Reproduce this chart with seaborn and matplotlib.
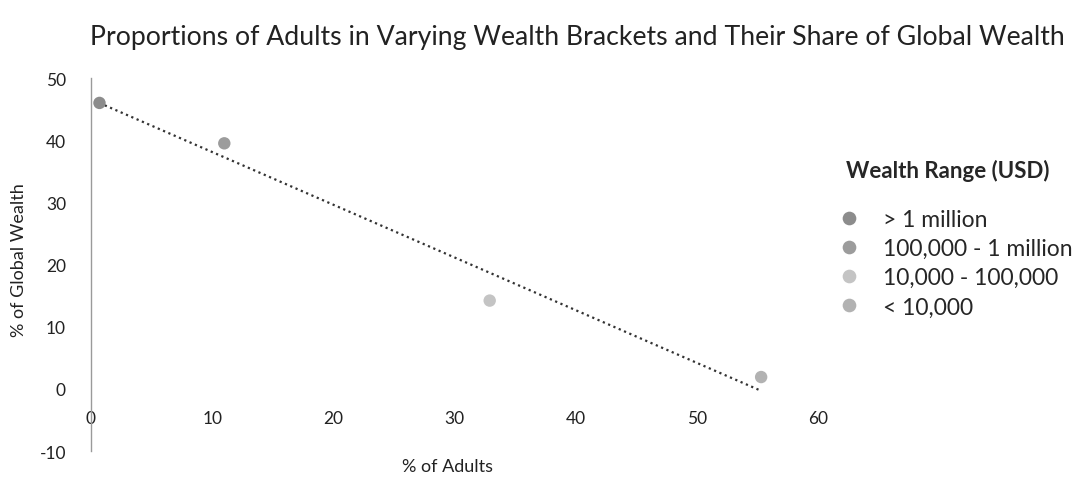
import matplotlib
matplotlib.use('Agg')
import matplotlib.pyplot as plt
import pandas as pd
import seaborn as sns

# values
wealth_range = ['> 1 million', '100,000 - 1 million', '10,000 - 100,000', '< 10,000']
pct_adults = [0.7, 11.0, 32.9, 55.3]
pct_wealth = [46.0, 39.5, 14.2, 1.9]
x_ticks = [0, 10, 20, 30, 40, 50, 60]
y_ticks = [-10, 0, 10, 20, 30, 40, 50]

df = pd.DataFrame({'range': wealth_range, 'adults': pct_adults, 'wealth': pct_wealth})

sns.set_style('white')
plt.rcParams['font.family'] = ['Lato', 'DejaVu Sans']
plt.rcParams['axes.unicode_minus'] = False

fig = plt.figure(figsize=(10.82, 4.85), dpi=100)
ax = fig.add_axes([0.0841, 0.068, 0.672, 0.769])

grays = ['#8c8c8c', '#9c9c9c', '#c4c4c4', '#b2b2b2']
sns.scatterplot(data=df, x='adults', y='wealth', hue='range', palette=grays,
                s=80, edgecolor='none', ax=ax, zorder=3)
sns.regplot(data=df, x='adults', y='wealth', scatter=False, ci=None, ax=ax,
            line_kws={'color': '#333333', 'linestyle': (0, (1, 1.6)), 'linewidth': 1.6})

ax.set_xlim(0, 60)
ax.set_ylim(-10, 50)
ax.set_xticks(x_ticks)
ax.set_yticks(y_ticks)
ax.tick_params(axis='both', length=0, labelsize=12.5, colors='#222222')
ax.tick_params(axis='x', pad=15)
ax.tick_params(axis='y', pad=18)

for s in ['top', 'right']:
    ax.spines[s].set_visible(False)
ax.spines['bottom'].set_position(('data', 0))
ax.spines['bottom'].set_visible(False)
ax.spines['left'].set_color('#9a9a9a')
ax.spines['left'].set_linewidth(1.0)

ax.set_xlabel('% of Adults', fontsize=13, color='#222222')
ax.set_ylabel('% of Global Wealth', fontsize=13, color='#222222')
ax.xaxis.set_label_coords(0.49, -0.02)
ax.yaxis.set_label_coords(-0.088, 0.515)

fig.suptitle('Proportions of Adults in Varying Wealth Brackets and Their Share of Global Wealth',
             x=0.534, y=0.922, va='center', fontsize=19.2, color='#222222')

handles, labels = ax.get_legend_handles_labels()
leg = ax.legend(handles, labels, title='Wealth Range (USD)', loc='upper left',
                bbox_to_anchor=(0.771, 0.694), bbox_transform=fig.transFigure,
                frameon=False, fontsize=16.5, title_fontsize=16, handlelength=0.25,
                handletextpad=1.4, labelspacing=0.36, markerscale=1.1,
                borderpad=0.0)
leg.get_title().set_fontweight('bold')
leg._legend_box.align = 'left'
leg._legend_box.sep = 20

fig.savefig('out.png', dpi=100)
